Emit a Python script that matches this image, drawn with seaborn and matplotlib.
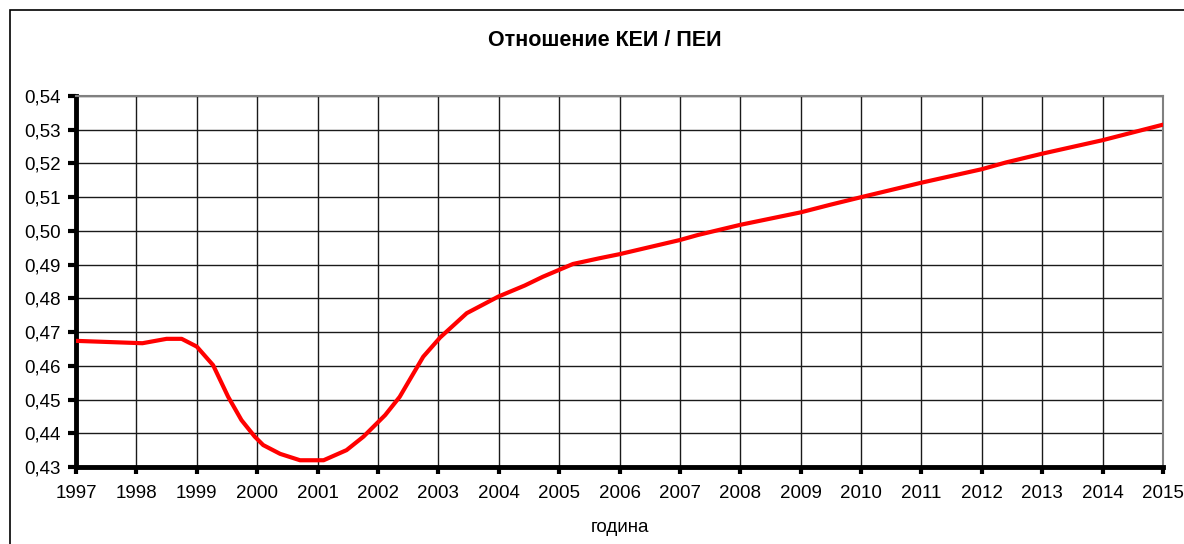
import numpy as np
import pandas as pd
import seaborn as sns
import matplotlib
matplotlib.use("Agg")
import matplotlib.pyplot as plt
from matplotlib.patches import Rectangle

# values (year, ratio)
years = [1997.0, 1998.1, 1998.5, 1998.75, 1999.0, 1999.27, 1999.52, 1999.74, 1999.96,
         2000.1, 2000.38, 2000.71, 2001.1, 2001.48, 2001.76, 2002.12, 2002.36, 2002.75,
         2003.03, 2003.47, 2003.99, 2004.43, 2004.73, 2005.23, 2005.67, 2006.0, 2007.0,
         2007.3, 2008.0, 2009.0, 2009.5, 2010.0, 2011.0, 2012.0, 2012.4, 2013.0, 2014.0,
         2015.0]
ratio = [0.4674, 0.4667, 0.4680, 0.4680, 0.4657, 0.4602, 0.4508, 0.4439, 0.4390,
         0.4365, 0.4339, 0.4320, 0.4320, 0.4350, 0.4390, 0.4454, 0.4508, 0.4627,
         0.4684, 0.4756, 0.4805, 0.4838, 0.4864, 0.4902, 0.4919, 0.4931, 0.4973,
         0.4988, 0.5018, 0.5055, 0.5078, 0.5100, 0.5143, 0.5183, 0.5203, 0.5229, 0.5269,
         0.5315]

x_ticks = list(range(1997, 2016))
y_ticks = [0.43, 0.44, 0.45, 0.46, 0.47, 0.48, 0.49, 0.50, 0.51, 0.52, 0.53, 0.54]
y_labels = ["0,43", "0,44", "0,45", "0,46", "0,47", "0,48", "0,49", "0,50",
            "0,51", "0,52", "0,53", "0,54"]

df = pd.DataFrame({"year": years, "ratio": ratio})

sns.set_theme(style="white")
plt.rcParams['font.family'] = ['Liberation Sans', 'DejaVu Sans']
plt.rcParams['text.color'] = 'black'

fig = plt.figure(figsize=(11.84, 5.44), dpi=100)
ax = fig.add_axes([76/1184, 1-467/544, (1163-76)/1184, (467-96)/544])

sns.lineplot(data=df, x="year", y="ratio", ax=ax, color="#ff0000", linewidth=3, zorder=5)

ax.set_xlim(1997, 2015)
ax.set_ylim(0.43, 0.54)
ax.set_xticks(x_ticks)
ax.set_xticklabels([str(t) for t in x_ticks], fontsize=13.5)
ax.set_yticks(y_ticks)
ax.set_yticklabels(y_labels, fontsize=13.5)
ax.grid(True, color="#1a1a1a", linewidth=1)
ax.tick_params(axis="y", direction="out", length=6, width=3, color="black",
               labelcolor="black", pad=5, left=True)
ax.tick_params(axis="x", direction="out", length=5, width=3, color="black",
               labelcolor="black", pad=8, bottom=True)

for side in ["left", "bottom"]:
    ax.spines[side].set_color("black")
    ax.spines[side].set_linewidth(3.5)
for side in ["top", "right"]:
    ax.spines[side].set_color("#808080")
    ax.spines[side].set_linewidth(1.5)

ax.set_xlabel("година", fontsize=13.5, labelpad=12, color="black")
ax.set_ylabel("")
fig.text(605/1184, 1-41/544, "Отношение КЕИ / ПЕИ", ha="center", va="center",
         fontsize=15.5, fontweight="bold", color="black")

# outer chart border
fig.patches.append(Rectangle((10/1184, -0.1), 1.2, 1-10/544+0.1, transform=fig.transFigure,
                             fill=False, edgecolor="black", linewidth=1.2))

fig.savefig("out.png", dpi=100)
